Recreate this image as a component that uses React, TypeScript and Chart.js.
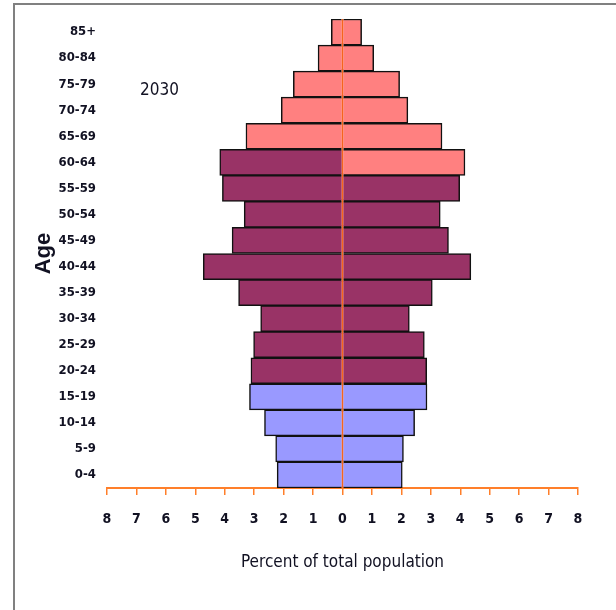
import React, { useEffect, useRef } from "react";
import { Chart, registerables } from "chart.js";

Chart.register(...registerables);

// Age groups, top to bottom
const ageGroups = [
  "85+", "80-84", "75-79", "70-74", "65-69", "60-64", "55-59", "50-54", "45-49",
  "40-44", "35-39", "30-34", "25-29", "20-24", "15-19", "10-14", "5-9", "0-4",
];
// Percent of total population (male drawn to the left)
const malePct = [
  0.38, 0.83, 1.67, 2.08, 3.28, 4.17, 4.08, 3.34, 3.75,
  4.73, 3.53, 2.78, 3.02, 3.11, 3.16, 2.65, 2.27, 2.22,
];
const femalePct = [
  0.65, 1.06, 1.94, 2.22, 3.38, 4.16, 3.98, 3.32, 3.6,
  4.36, 3.05, 2.27, 2.78, 2.86, 2.87, 2.45, 2.07, 2.03,
];
const xTicks = [-8, -7, -6, -5, -4, -3, -2, -1, 0, 1, 2, 3, 4, 5, 6, 7, 8];
const yearLabel = "2030";
const xTitle = "Percent of total population";
const yTitle = "Age";

const maleRetireAge = 65;
const femaleRetireAge = 60;
const youngAge = 20;

const PINK = "#FF8080";
const PURPLE = "#993366";
const BLUE = "#9999FF";
const ORANGE = "#FF7F2A";
const TEXT = "#111122";
const NARROW = "'Liberation Sans Narrow', 'DejaVu Sans Condensed', 'Liberation Sans', Arial, sans-serif";

function startAge(label: string): number {
  return parseInt(label, 10);
}
function colorFor(label: string, retire: number): string {
  const a = startAge(label);
  if (a >= retire) return PINK;
  if (a < youngAge) return BLUE;
  return PURPLE;
}

const framePlugin = {
  id: "frame",
  beforeDraw(chart: any) {
    const ctx = chart.ctx;
    ctx.save();
    ctx.fillStyle = "#ffffff";
    ctx.fillRect(0, 0, chart.width, chart.height);
    ctx.strokeStyle = "#808080";
    ctx.lineWidth = 2;
    ctx.beginPath();
    ctx.moveTo(14, chart.height);
    ctx.lineTo(14, 4);
    ctx.lineTo(chart.width, 4);
    ctx.stroke();
    ctx.restore();
  },
};

const centerLinePlugin = {
  id: "centerLine",
  afterDatasetsDraw(chart: any) {
    const { ctx, chartArea, scales } = chart;
    const x = scales.x.getPixelForValue(0);
    ctx.save();
    ctx.strokeStyle = "#F5641E";
    ctx.lineWidth = 1.5;
    ctx.beginPath();
    ctx.moveTo(x, chartArea.top);
    ctx.lineTo(x, chartArea.bottom);
    ctx.stroke();
    ctx.restore();
  },
  afterDraw(chart: any) {
    const ctx = chart.ctx;
    ctx.save();
    ctx.fillStyle = TEXT;
    ctx.font = `17px ${NARROW}`;
    ctx.textAlign = "left";
    ctx.textBaseline = "middle";
    ctx.fillText(yearLabel, 140, 91);
    ctx.restore();
  },
};

export default function App() {
  const ref = useRef<HTMLCanvasElement | null>(null);

  useEffect(() => {
    if (!ref.current) return;
    const chart = new Chart(ref.current, {
      type: "bar",
      data: {
        labels: ageGroups,
        datasets: [
          {
            label: "Male",
            data: malePct.map((v) => -v),
            backgroundColor: ageGroups.map((g) => colorFor(g, maleRetireAge)),
            borderColor: "#111111",
            borderWidth: 1.5,
            categoryPercentage: 1,
            barPercentage: 1,
          },
          {
            label: "Female",
            data: femalePct,
            backgroundColor: ageGroups.map((g) => colorFor(g, femaleRetireAge)),
            borderColor: "#111111",
            borderWidth: 1.5,
            categoryPercentage: 1,
            barPercentage: 1,
          },
        ],
      },
      options: {
        indexAxis: "y",
        responsive: false,
        animation: false,
        layout: { padding: { top: 19, right: 38, left: 0, bottom: 0 } },
        plugins: {
          legend: { display: false },
          tooltip: { enabled: false },
          title: { display: false },
        },
        scales: {
          x: {
            type: "linear",
            stacked: true,
            min: -8,
            max: 8,
            afterBuildTicks: (scale: any) => {
              scale.ticks = xTicks.map((v) => ({ value: v }));
            },
            afterFit: (scale: any) => {
              scale.height = 122;
            },
            grid: {
              drawOnChartArea: false,
              drawTicks: true,
              tickLength: 7,
              color: ORANGE,
              lineWidth: 1.5,
            },
            border: { display: true, color: ORANGE, width: 2 },
            ticks: {
              padding: 16,
              color: TEXT,
              font: { family: NARROW, size: 14, weight: "bold" },
              callback: (v: any) => String(Math.abs(Number(v))),
            },
            title: {
              display: true,
              text: xTitle,
              color: TEXT,
              font: { family: NARROW, size: 17 },
              padding: { top: 0, bottom: 37 },
            },
          },
          y: {
            stacked: true,
            afterFit: (scale: any) => {
              scale.width = 107;
            },
            grid: { display: false, drawTicks: false },
            border: { display: false },
            ticks: {
              padding: 11,
              color: TEXT,
              font: { family: NARROW, size: 13, weight: "bold" },
            },
            title: {
              display: true,
              text: yTitle,
              color: TEXT,
              font: { family: "'Liberation Sans', Arial, sans-serif", size: 22, weight: "bold" },
              padding: { top: 31, bottom: 0 },
            },
          },
        },
      },
      plugins: [framePlugin, centerLinePlugin],
    } as any);
    return () => chart.destroy();
  }, []);

  return (
    <div style={{ position: "fixed", left: 0, top: 0, width: 616, height: 610, background: "#fff" }}>
      <canvas ref={ref} width={616} height={610} style={{ display: "block" }} />
    </div>
  );
}
